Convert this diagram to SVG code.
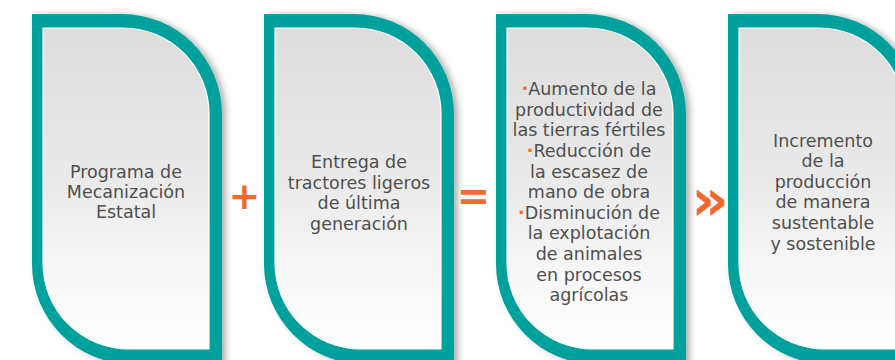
<svg xmlns="http://www.w3.org/2000/svg" width="895" height="360" viewBox="0 0 895 360">
<style>
.txt{font-family:"DejaVu Sans","Liberation Sans",sans-serif;font-size:17.5px;fill:#4f4f4f;text-anchor:middle}
.op{font-family:"DejaVu Sans","Liberation Sans",sans-serif;font-weight:bold;fill:#ef6a2c;text-anchor:middle}
.dot{fill:#ef6a2c;font-weight:bold}
.outer{fill:#05a09c}
.inner{fill:url(#g);stroke:#ffffff;stroke-width:1.2}
</style>
<defs>
<linearGradient id="g" x1="0" y1="0" x2="0" y2="1">
<stop offset="0" stop-color="#dddddd"/>
<stop offset="0.45" stop-color="#e9e9e9"/>
<stop offset="0.85" stop-color="#fbfbfb"/>
<stop offset="1" stop-color="#ffffff"/>
</linearGradient>
<filter id="sh" x="-10%" y="-10%" width="125%" height="120%">
<feDropShadow dx="4" dy="1" stdDeviation="3" flood-color="#000" flood-opacity="0.3"/>
</filter>
<g id="card">
<path class="outer" filter="url(#sh)" d="M0 0 H90 A100 100 0 0 1 190 100 V350 H100 A100 100 0 0 1 0 250 Z"/>
<path class="inner" d="M11 14 H91 A86 86 0 0 1 177 100 V335 H97 A86 86 0 0 1 11 249 Z"/>
</g>
</defs>
<rect width="895" height="360" fill="#ffffff"/>
<g id="node1">
<use href="#card" transform="translate(32,14)"/>
<text class="txt" x="126" y="178">Programa de</text>
<text class="txt" x="126" y="198">Mecanización</text>
<text class="txt" x="126" y="218">Estatal</text>
</g>
<g id="node2">
<use href="#card" transform="translate(264,14)"/>
<text class="txt" x="359" y="168">Entrega de</text>
<text class="txt" x="359" y="188.5">tractores ligeros</text>
<text class="txt" x="359" y="209">de última</text>
<text class="txt" x="359" y="229.5">generación</text>
</g>
<g id="node3">
<use href="#card" transform="translate(496,14)"/>
<text class="txt" x="589" y="95"><tspan class="dot">·</tspan>Aumento de la</text>
<text class="txt" x="589" y="115.5">productividad de</text>
<text class="txt" x="589" y="136">las tierras fértiles</text>
<text class="txt" x="589" y="157"><tspan class="dot">·</tspan>Reducción de</text>
<text class="txt" x="589" y="177.5">la escasez de</text>
<text class="txt" x="589" y="198">mano de obra</text>
<text class="txt" x="589" y="218.5"><tspan class="dot">·</tspan>Disminución de</text>
<text class="txt" x="589" y="239">la explotación</text>
<text class="txt" x="589" y="260">de animales</text>
<text class="txt" x="589" y="280.5">en procesos</text>
<text class="txt" x="589" y="301">agrícolas</text>
</g>
<g id="node4">
<use href="#card" transform="translate(728,14)"/>
<text class="txt" x="823" y="147">Incremento</text>
<text class="txt" x="823" y="167">de la</text>
<text class="txt" x="823" y="188">producción</text>
<text class="txt" x="823" y="208">de manera</text>
<text class="txt" x="823" y="229">sustentable</text>
<text class="txt" x="823" y="250">y sostenible</text>
</g>
<g id="connectors">
<text class="op" x="244.5" y="208.5" font-size="38">+</text>
<text class="op" x="473.5" y="210" font-size="40">=</text>
<text class="op" x="710" y="220" font-size="58">»</text>
</g>
</svg>
